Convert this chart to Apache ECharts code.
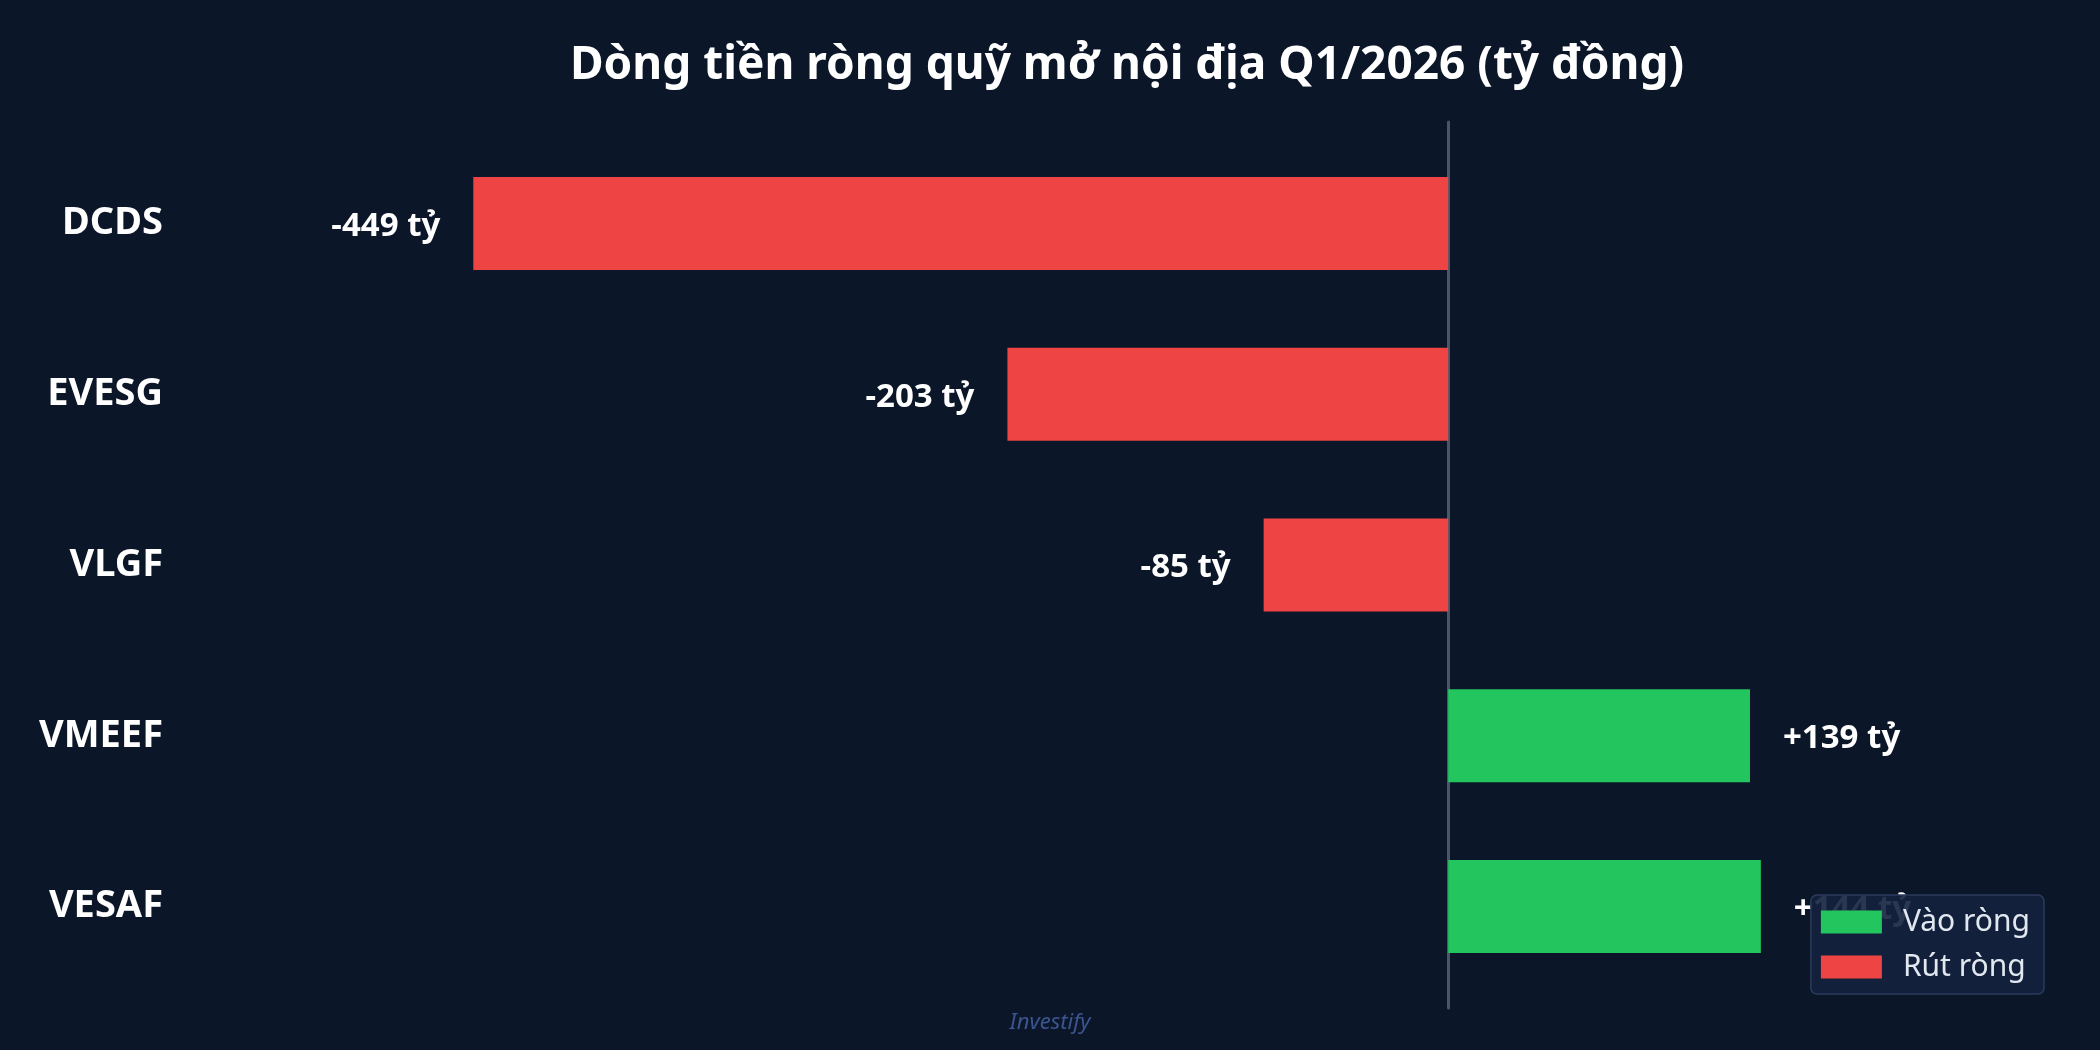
<!DOCTYPE html>
<html>
<head>
<meta charset="utf-8">
<title>Dòng tiền ròng quỹ mở nội địa Q1/2026</title>
<script src="https://cdn.jsdelivr.net/npm/echarts@6/dist/echarts.min.js"></script>
<style>
  html, body { margin: 0; padding: 0; background: #0b1628; }
  #chart { width: 2100px; height: 1050px; }
</style>
</head>
<body>
<div id="chart"></div>
<script>
// dữ liệu
var funds = ['DCDS', 'EVESG', 'VLGF', 'VMEEF', 'VESAF'];
var netFlow = [-449, -203, -85, 139, 144];
var seriesNames = ['Vào ròng', 'Rút ròng'];

var inflow = netFlow.map(function (v) { return v >= 0 ? v : '-'; });
var outflow = netFlow.map(function (v) { return v < 0 ? v : '-'; });

var chart = echarts.init(document.getElementById('chart'));
var font = 'Noto Sans';

function fmt(p) {
  var v = p.value;
  return (v > 0 ? '+' : '') + v + ' tỷ';
}

var option = {
  backgroundColor: '#0b1628',
  textStyle: { fontFamily: font },
  title: [
    {
      text: 'Dòng tiền ròng quỹ mở nội địa Q1/2026 (tỷ đồng)',
      left: 1122,
      textAlign: 'center',
      top: 38,
      textStyle: { color: '#ffffff', fontSize: 46, fontWeight: 'bold', fontFamily: font }
    },
    {
      text: 'Investify',
      left: 'center',
      top: 1007,
      textStyle: { color: '#3b5590', fontSize: 22, fontStyle: 'italic', fontWeight: 'normal', fontFamily: font }
    }
  ],
  legend: {
    data: seriesNames,
    orient: 'vertical',
    right: 56,
    bottom: 56,
    icon: 'rect',
    itemWidth: 61,
    itemHeight: 23,
    itemGap: 15,
    padding: [12, 14, 12, 10],
    backgroundColor: 'rgba(19,33,62,0.9)',
    borderColor: '#2d3b5c',
    borderWidth: 1.5,
    borderRadius: 6,
    textStyle: { color: '#e2e8f0', fontSize: 30, fontFamily: font, padding: [0, 0, 0, 16] }
  },
  grid: [
    { left: 254, right: 109, top: 138, bottom: 58 },
    { left: 254, right: 109, top: 122, bottom: 42 }
  ],
  xAxis: [
    {
      type: 'value', gridIndex: 0, min: -550, max: 250,
      axisLine: { show: false }, axisTick: { show: false },
      axisLabel: { show: false }, splitLine: { show: false }
    },
    {
      type: 'value', gridIndex: 1, min: -550, max: 250,
      axisLine: { show: false }, axisTick: { show: false },
      axisLabel: { show: false }, splitLine: { show: false }
    }
  ],
  yAxis: [
    {
      type: 'category', gridIndex: 0, data: funds, inverse: true,
      axisLine: { show: false }, axisTick: { show: false },
      axisLabel: { color: '#ffffff', fontSize: 38, fontWeight: 'bold', margin: 91, fontFamily: font, padding: [10, 0, 0, 0] }
    },
    {
      type: 'value', gridIndex: 1,
      axisLine: { show: true, onZero: true, lineStyle: { color: '#4b5568', width: 3 } },
      axisTick: { show: false }, axisLabel: { show: false }, splitLine: { show: false }
    }
  ],
  series: [
    {
      name: seriesNames[0],
      type: 'bar',
      stack: 'flow',
      data: inflow,
      barWidth: 93,
      itemStyle: { color: '#22c55e' },
      label: {
        show: true, position: 'right', distance: 33, offset: [0, 3],
        color: '#ffffff', fontSize: 33, fontWeight: 'bold', fontFamily: font,
        formatter: fmt
      }
    },
    {
      name: seriesNames[1],
      type: 'bar',
      stack: 'flow',
      data: outflow,
      barWidth: 93,
      itemStyle: { color: '#ef4444' },
      label: {
        show: true, position: 'left', distance: 33, offset: [0, 3],
        color: '#ffffff', fontSize: 33, fontWeight: 'bold', fontFamily: font,
        formatter: fmt
      }
    }
  ]
};

chart.setOption(option);
</script>
</body>
</html>
